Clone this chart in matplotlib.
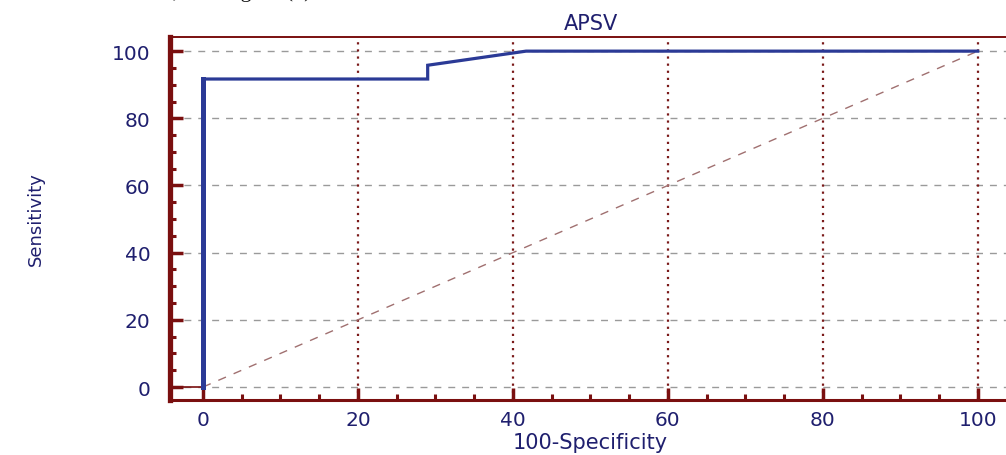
import matplotlib
matplotlib.use("Agg")
import matplotlib.pyplot as plt
from matplotlib.ticker import MultipleLocator

# Data
roc_x = [0, 0, 29, 29, 41.7, 100]
roc_y = [0, 91.7, 91.7, 95.8, 100, 100]
diag_x = [0, 100]
diag_y = [0, 100]
x_ticks = [0, 20, 40, 60, 80, 100]
y_ticks = [0, 20, 40, 60, 80, 100]
title = "APSV"
x_label = "100-Specificity"
y_label = "Sensitivity"

navy = "#1f1f6e"
maroon = "#7a0f0f"
blue = "#2b3a96"

fig = plt.figure(figsize=(10.06, 4.56), dpi=100)
ax = fig.add_axes([0.169, 0.1206, 0.836, 0.796])
ax.set_xlim(-4.26, 104.3)
ax.set_ylim(-3.87, 104.2)

# grid
for yv in y_ticks:
    ax.axhline(yv, color="#9a9a9a", lw=1.0, ls=(0, (5, 5)), zorder=1)
for xv in x_ticks[1:]:
    ax.axvline(xv, color="#7a1a1a", lw=1.6, ls=(0, (1, 2.2)), zorder=1)
ax.plot([-4.26, 0], [0, 0], color=maroon, lw=1.2, zorder=2)

# diagonal
ax.plot(diag_x, diag_y, color="#a07070", lw=1.0, ls=(0, (6, 6)), zorder=2)

# ROC curve
ax.plot(roc_x[1:], roc_y[1:], color=blue, lw=2.3, zorder=3, solid_joinstyle="miter")
ax.plot(roc_x[:2], roc_y[:2], color=blue, lw=3.6, zorder=3)

# spines
for s in ["left", "bottom", "top", "right"]:
    ax.spines[s].set_color(maroon)
ax.spines["left"].set_linewidth(3.8)
ax.spines["bottom"].set_linewidth(2.2)
ax.spines["top"].set_linewidth(1.4)
ax.spines["right"].set_linewidth(1.4)

ax.set_xticks(x_ticks)
ax.set_yticks(y_ticks)
ax.xaxis.set_minor_locator(MultipleLocator(5))
ax.yaxis.set_minor_locator(MultipleLocator(5))
ax.tick_params(axis="both", which="major", direction="in", length=9, width=2.5,
               color=maroon, labelcolor=navy, labelsize=14.5, top=False, right=False)
ax.tick_params(axis="both", which="minor", direction="in", length=4, width=2.2,
               color=maroon, top=False, right=False)
ax.tick_params(axis="x", which="major", pad=7)
ax.tick_params(axis="y", which="major", pad=14)

ax.set_title(title, color=navy, fontsize=15, pad=6)
ax.set_xlabel(x_label, color=navy, fontsize=15, labelpad=2)
ax.set_ylabel(y_label, color=navy, fontsize=13,
              family=["Liberation Sans Narrow", "DejaVu Sans"], labelpad=48)

# clipped caption fragment at the top (only descenders visible, as in the reference)
fig.text(312 / 1006, 1 + 3 / 456, "1. ; and Figure (b)", ha="right", va="baseline",
         family=["Liberation Serif", "DejaVu Serif"], fontsize=16, color="#111111")

fig.savefig("out.png", dpi=100)
